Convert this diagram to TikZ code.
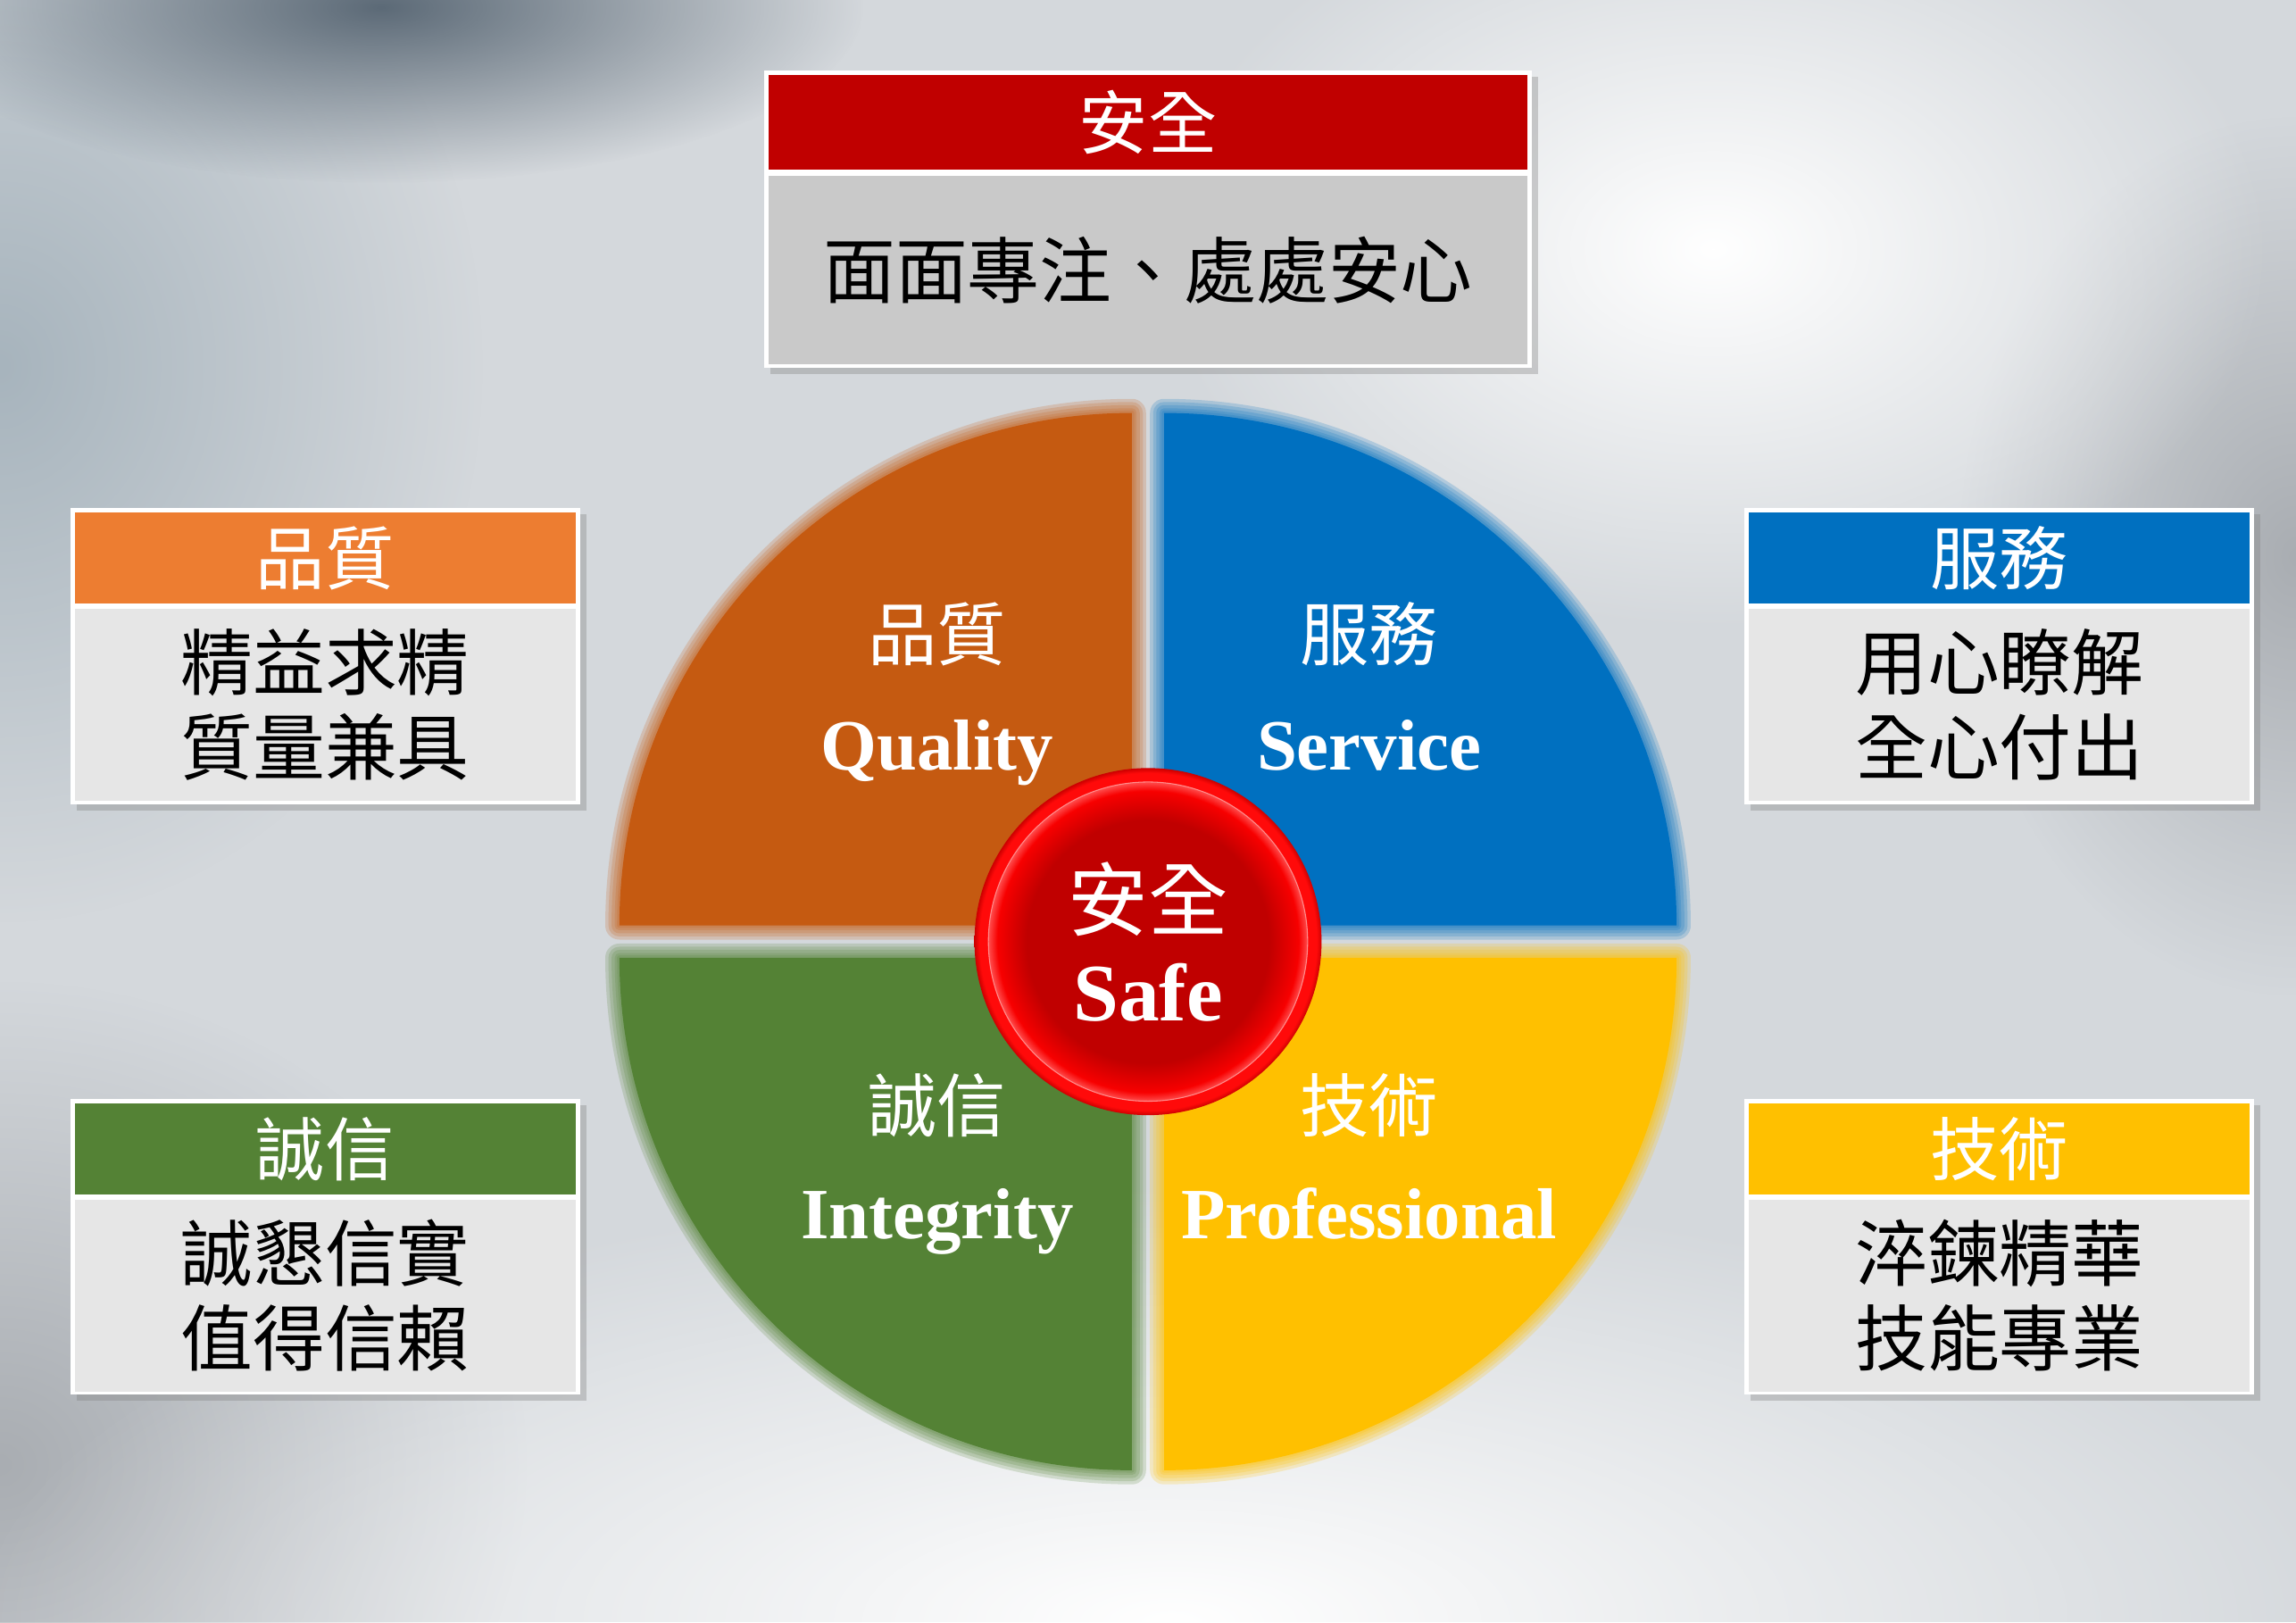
\documentclass[tikz,border=0pt]{standalone}
\usepackage{fontspec}
\setmainfont{Liberation Serif}
\newfontfamily\cjk{Noto Sans CJK TC}
\usetikzlibrary{positioning, shadows, fadings, calc}
\definecolor{bgbase}{HTML}{D4D8DC}
\definecolor{bgdark}{HTML}{5C6A77}
\definecolor{bgside}{HTML}{A7B4BD}
\definecolor{bggray}{HTML}{A9ADB2}
\definecolor{safered}{HTML}{C00000}
\definecolor{btnred}{HTML}{FF0A0A}
\definecolor{qualhead}{HTML}{ED7D31}
\definecolor{qualfill}{HTML}{C55A11}
\definecolor{servblue}{HTML}{0070C0}
\definecolor{integreen}{HTML}{548235}
\definecolor{profgold}{HTML}{FFC000}
\definecolor{cardgray}{HTML}{E6E6E6}
\definecolor{topgray}{HTML}{C9C9C9}
\newcommand{\HeadF}{\cjk\fontsize{22}{26}\selectfont}
\newcommand{\BodyF}{\cjk\fontsize{23}{27}\selectfont}
\newcommand{\QuadZhF}{\cjk\fontsize{22}{26}\selectfont}
\newcommand{\QuadEnF}{\fontsize{23}{27}\selectfont\bfseries}
\newcommand{\SafeZhF}{\cjk\fontsize{25.5}{30}\selectfont}
\newcommand{\SafeEnF}{\fontsize{26}{30}\selectfont\bfseries}
\pgfdeclareradialshading{ringshade}{\pgfpoint{0bp}{0bp}}{color(0bp)=(safered); color(21bp)=(safered); color(22.6bp)=(btnred); color(24.3bp)=(btnred); color(25bp)=(red!80!black); color(50bp)=(red!80!black)}
\pgfdeclareradialshading{coreshade}{\pgfpoint{0bp}{0bp}}{color(0bp)=(safered); color(19bp)=(safered); color(23.6bp)=(red!88!safered); color(25bp)=(red!70!white); color(50bp)=(red!70!white)}
\tikzfading[name=softblob, inner color=transparent!0, outer color=transparent!100]
\tikzset{
  card/.style={fill=white, inner sep=0pt,
    drop shadow={shadow xshift=0.7mm, shadow yshift=-0.7mm, opacity=0.35}},
  sidecard/.style={card, minimum width=57.08mm, minimum height=33.13mm},
  cardhead/.style={fill=#1, inner sep=0pt, text=white, font=\HeadF,
    minimum width=56.1mm, minimum height=10.17mm},
  cardbody/.style={fill=#1, inner sep=0pt, align=center, font=\BodyF,
    minimum width=56.1mm, minimum height=21.49mm},
  cardbody/.default=cardgray,
  quadzh/.style={text=white, inner sep=0pt, font=\QuadZhF},
  quaden/.style={text=white, inner sep=0pt, font=\QuadEnF, anchor=base},
  blob/.style={fill=#1, path fading=softblob}
}

\begin{document}
\begin{tikzpicture}[x=0.16403mm, y=-0.16403mm]
  \useasboundingbox (0,0) rectangle (1568,1108);
  % background
  \fill[bgbase] (0,0) rectangle (1568,1108);
  \fill[blob=bgside] (0,250) ellipse (330 and 380);
  \fill[blob=bggray] (0,1000) ellipse (360 and 330);
  \fill[blob=bggray] (1568,380) ellipse (230 and 300);
  \fill[blob=white] (1170,170) ellipse (380 and 260);
  \fill[blob=white] (800,1108) ellipse (820 and 300);
  \fill[blob=bgdark] (260,5) ellipse (330 and 120);

  % top card
  \node[card, minimum width=85.95mm, minimum height=33.30mm] (safecard) at (784,149.5) {};
  \node[cardhead=safered, minimum width=84.97mm, minimum height=10.66mm,
        below=0.49mm of safecard.north] (safehead) {安全};
  \node[cardbody=topgray, minimum width=84.97mm, minimum height=21.16mm,
        below=0.49mm of safehead] (safebody) {面面專注、處處安心};

  % side cards
  \node[sidecard] (qualcard) at (222,448) {};
  \node[cardhead=qualhead, below=0.49mm of qualcard.north] (qualtitle) {品質};
  \node[cardbody, below=0.49mm of qualtitle] (qualbody) {精益求精\\質量兼具};

  \node[sidecard] (servcard) at (1365.5,448) {};
  \node[cardhead=servblue, below=0.49mm of servcard.north] (servtitle) {服務};
  \node[cardbody, below=0.49mm of servtitle] (servbody) {用心瞭解\\全心付出};

  \node[sidecard] (integcard) at (222,851.5) {};
  \node[cardhead=integreen, below=0.49mm of integcard.north] (integtitle) {誠信};
  \node[cardbody, below=0.49mm of integtitle] (integbody) {誠懇信實\\值得信賴};

  \node[sidecard] (profcard) at (1365.5,851.5) {};
  \node[cardhead=profgold, below=0.49mm of profcard.north] (proftitle) {技術};
  \node[cardbody, below=0.49mm of proftitle] (profbody) {淬鍊精華\\技能專業};

  % pie
  \coordinate (ctr) at (784,643);
  \foreach \qc/\qa/\qx/\qy in {qualfill/180/-11/-11, servblue/270/11/-11,
                               integreen/90/-11/11, profgold/0/11/11}{
    \coordinate (qcorner) at ($(ctr)+(\qx,\qy)$);
    \foreach \w in {9,7,5,3,1.5}
      \draw[\qc, line width=\w pt, opacity=0.2, line join=round]
        (qcorner) -- ++(\qa:350) arc[start angle=\qa, delta angle=90, radius=350] -- cycle;
    \fill[\qc] (qcorner) -- ++(\qa:350) arc[start angle=\qa, delta angle=90, radius=350] -- cycle;
  }

  \node[quadzh] (qualzh) at (640,433) {品質};
  \node[quaden] (qualen) at (640,526) {Quality};
  \node[quadzh] (servzh) at (935,433) {服務};
  \node[quaden] (serven) at (935,526) {Service};
  \node[quadzh] (integzh) at (640,755) {誠信};
  \node[quaden] (integen) at (640,846) {Integrity};
  \node[quadzh] (profzh) at (935,755) {技術};
  \node[quaden] (profen) at (935,846) {Professional};

  % center button
  \node[circle, inner sep=0pt, minimum size=38.88mm, shade, shading=ringshade] (ring) at (ctr) {};
  \node[circle, inner sep=0pt, minimum size=35.76mm, shade, shading=coreshade,
        draw=red!45!white, line width=0.3pt] (core) at (ctr) {};
  \node[quadzh, font=\SafeZhF] (safezh) at (784,614) {安全};
  \node[quaden, font=\SafeEnF] (safeen) at (784,697) {Safe};
\end{tikzpicture}
\end{document}
